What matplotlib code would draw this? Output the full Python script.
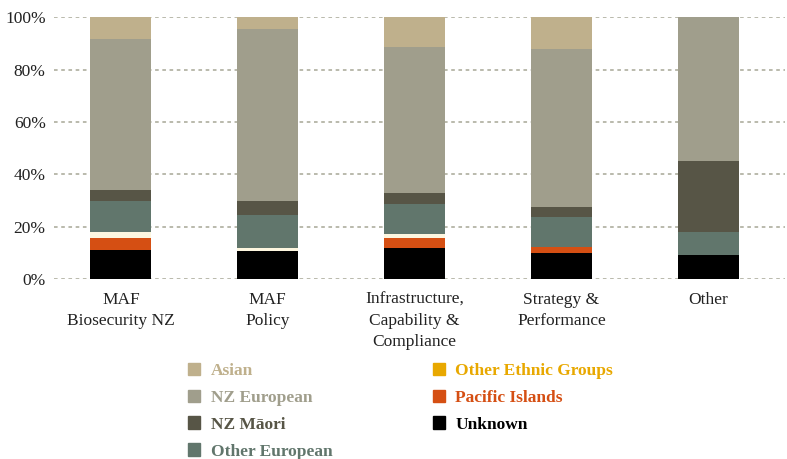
import matplotlib.pyplot as plt
import numpy as np
from matplotlib.patches import Patch

plt.rcParams['font.family'] = ['Liberation Serif', 'DejaVu Serif']

# categories and shares (%) by ethnicity
groups = ['MAF\nBiosecurity NZ', 'MAF\nPolicy', 'Infrastructure,\nCapability &\nCompliance',
          'Strategy &\nPerformance', 'Other']
unknown = [11.2, 10.8, 11.9, 10.0, 9.2]
pacific = [4.6, 0.0, 3.9, 2.1, 0.0]
other_ethnic = [2.3, 1.2, 1.5, 0.0, 0.0]
other_european = [11.9, 12.3, 11.5, 11.7, 8.8]
nz_maori = [4.2, 5.7, 4.2, 3.8, 27.2]
nz_european = [57.6, 65.6, 55.7, 60.4, 54.8]
asian = [8.2, 4.4, 11.3, 12.0, 0.0]

# bottom -> top: (label, values, bar colour, legend colour)
series = [
    ('Unknown', unknown, '#000000', '#000000'),
    ('Pacific Islands', pacific, '#d54f13', '#d54f13'),
    ('Other Ethnic Groups', other_ethnic, '#fdf6df', '#e8a800'),
    ('Other European', other_european, '#61766c', '#61766c'),
    ('NZ Māori', nz_maori, '#575546', '#575546'),
    ('NZ European', nz_european, '#a09e8c', '#a09e8c'),
    ('Asian', asian, '#bfb08c', '#bfb08c'),
]

fig = plt.figure(figsize=(7.87, 4.59), dpi=100)
ax = fig.add_axes([0.0686, 0.392, 0.9284, 0.570])

x = np.arange(len(groups))
bottom = np.zeros(len(groups))
for name, vals, col, _ in series:
    vals = np.array(vals)
    ax.bar(x, vals, bottom=bottom, width=0.415, color=col, zorder=3)
    bottom += vals

ax.set_xlim(-0.456, 4.52)
ax.set_ylim(0, 100)
ax.set_yticks([0, 20, 40, 60, 80, 100])
ax.set_yticklabels([f'{v}%' for v in range(0, 101, 20)])
ax.set_xticks(x)
ax.set_xticklabels(groups, linespacing=1.45, va='top')
ax.tick_params(axis='both', length=0, labelsize=12.5, colors='#222222')
ax.tick_params(axis='x', pad=9)
ax.tick_params(axis='y', pad=6)
for s in ax.spines.values():
    s.set_visible(False)
ax.yaxis.grid(True, color='#b4b4a6', linestyle=(0, (2, 2)), linewidth=1.3, zorder=0)
ax.set_axisbelow(True)

# legend in the order shown: Asian, NZ European, NZ Maori, Other European | rest
order = [6, 5, 4, 3, 2, 1, 0]
handles = [Patch(color=series[i][3]) for i in order]
labels = [series[i][0] for i in order]
leg = fig.legend(handles, labels, ncol=2, loc='upper left', bbox_to_anchor=(0.219, 0.244),
                 frameon=False, handlelength=0.7, handleheight=0.7, handletextpad=0.6,
                 labelspacing=0.62, columnspacing=5.8,
                 prop={'weight': 'bold', 'size': 12.5})
for t, i in zip(leg.get_texts(), order):
    t.set_color(series[i][3])

fig.savefig('out.png', dpi=100)
